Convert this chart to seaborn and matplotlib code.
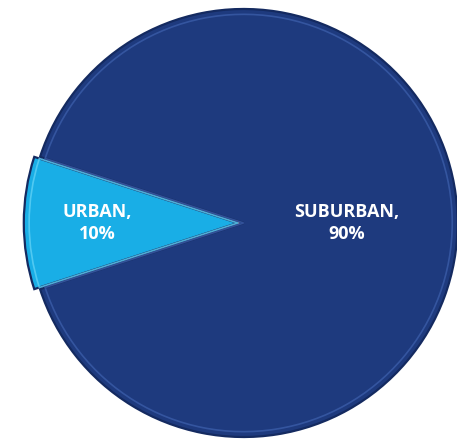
import matplotlib
matplotlib.use('Agg')
import matplotlib.pyplot as plt
import numpy as np
import seaborn as sns

# DATA

categories = ['URBAN', 'SUBURBAN']
shares = [10, 90]
slice_colors = ['#19AEE6', '#1E3A7E']
rim_colors = ['#5FD0F5', '#3A5CA8']

# STYLE

sns.set_theme(style='white')
plt.rcParams['font.family'] = ['Open Sans', 'DejaVu Sans']

fig = plt.figure(figsize=(4.57, 4.40), dpi=100)
ax = fig.add_axes([0, 0, 1, 1])

# PIE

explode = [0.015, 0.012]
wedges, texts = ax.pie(
    shares,
    labels=[f'{c},\n{s}%' for c, s in zip(categories, shares)],
    colors=slice_colors,
    startangle=162,
    explode=explode,
    labeldistance=0.6,
    wedgeprops={'edgecolor': '#142A60', 'linewidth': 1.6},
    textprops={'color': 'white', 'fontsize': 13, 'fontweight': 'bold'},
)

# a lighter inner rim, gives a bit of the bevel look
rim, _ = ax.pie(
    shares,
    startangle=162,
    explode=explode,
    radius=0.975,
    wedgeprops={'facecolor': 'none', 'linewidth': 1.2},
)
for r, c in zip(rim, rim_colors):
    r.set_edgecolor(c)
    r.set_alpha(0.8)

# PUT LABELS WHERE THEY SIT IN THE ORIGINAL

label_dist = [0.655, 0.48]
for w, t, d in zip(wedges, texts, label_dist):
    ang = np.deg2rad((w.theta1 + w.theta2) / 2)
    cx, cy = w.center
    t.set_position((cx + d * np.cos(ang), cy + d * np.sin(ang)))
    t.set_ha('center')
    t.set_va('center')
    t.set_linespacing(1.3)

ax.set_xlim(-1.126, 1.009)
ax.set_ylim(-1.014, 1.042)
ax.set_aspect('equal')
ax.axis('off')

fig.savefig('out.png', dpi=100)
